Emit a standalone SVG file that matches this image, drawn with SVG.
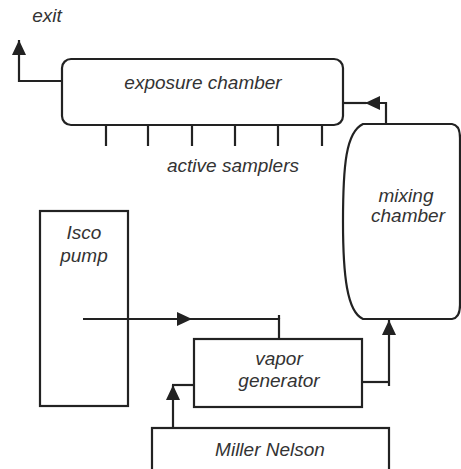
<svg xmlns="http://www.w3.org/2000/svg" width="461" height="469" viewBox="0 0 461 469">
  <style>
    .box { fill: #fff; stroke: #222; stroke-width: 2.2; }
    .ln { fill: none; stroke: #222; stroke-width: 2.2; }
    .arr { fill: none; stroke: #222; stroke-width: 2.2; marker-end: url(#ah); }
    .t { font-family: "Liberation Sans", Arial, sans-serif; font-style: italic; font-size: 19px; fill: #333; text-anchor: middle; }
  </style>
  <defs>
    <marker id="ah" markerUnits="userSpaceOnUse" markerWidth="16" markerHeight="14" refX="15" refY="7" orient="auto">
      <path d="M0,0 L15,7 L0,14 Z" fill="#222"/>
    </marker>
  </defs>
  <rect width="461" height="469" fill="#fff"/>

  <g id="connectors">
    <path class="arr" d="M62 81 L19 81 L19 40"/>
    <path class="arr" d="M386 124 L386 103 L365 103"/>
    <path class="ln" d="M366 103 L343 103"/>
    <path class="arr" d="M83 319 L192 319"/>
    <path class="ln" d="M191 319 L279 319 L279 339"/>
    <path class="ln" d="M279 319 L279 315"/>
    <path class="arr" d="M173 429 L173 385"/>
    <path class="ln" d="M172 385 L194 385"/>
    <path class="ln" d="M362 382 L389 382"/>
    <path class="arr" d="M389 386 L389 320"/>
  </g>

  <g id="exit">
    <text class="t" x="47" y="22">exit</text>
  </g>

  <g id="exposure-chamber">
    <rect class="box" x="62" y="59" width="281" height="66" rx="9"/>
    <text class="t" x="203" y="89">exposure chamber</text>
  </g>

  <g id="active-samplers">
    <path class="ln" d="M106 125 V146 M148 125 V146 M192 125 V146 M235 125 V146 M278 125 V146 M322 125 V146"/>
    <text class="t" x="233" y="172">active samplers</text>
  </g>

  <g id="mixing-chamber">
    <path class="box" d="M363 124 L452 124 Q460 125 460 138 L460 305 Q460 318 452 319 L363 319 C347 312 343 275 343 222 C343 165 346 132 363 124 Z"/>
    <text class="t" x="406" y="202">mixing</text>
    <text class="t" x="408" y="222">chamber</text>
  </g>

  <g id="isco-pump">
    <rect class="ln" x="40" y="211" width="88" height="195"/>
    <text class="t" x="84" y="239">Isco</text>
    <text class="t" x="84" y="262">pump</text>
  </g>

  <g id="vapor-generator">
    <rect class="box" x="194" y="339" width="168" height="68"/>
    <text class="t" x="279" y="365">vapor</text>
    <text class="t" x="279" y="387">generator</text>
  </g>

  <g id="miller-nelson">
    <rect class="box" x="152" y="428" width="237" height="50"/>
    <text class="t" x="270" y="456">Miller Nelson</text>
  </g>
</svg>
